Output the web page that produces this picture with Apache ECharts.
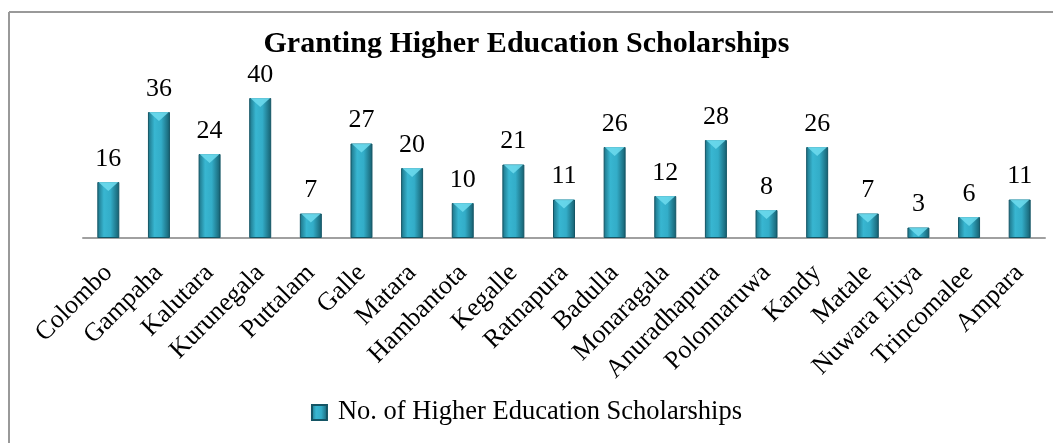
<!DOCTYPE html>
<html>
<head>
<meta charset="utf-8">
<script src="https://cdn.jsdelivr.net/npm/echarts@6/dist/echarts.min.js"></script>
<style>
  html, body { margin: 0; padding: 0; background: #fff; }
  #chart { width: 1053px; height: 443px; }
</style>
</head>
<body>
<div id="chart"></div>
<script>
// districts and scholarship counts
var districts = ['Colombo', 'Gampaha', 'Kalutara', 'Kurunegala', 'Puttalam', 'Galle', 'Matara',
  'Hambantota', 'Kegalle', 'Ratnapura', 'Badulla', 'Monaragala', 'Anuradhapura', 'Polonnaruwa',
  'Kandy', 'Matale', 'Nuwara Eliya', 'Trincomalee', 'Ampara'];
var scholarships = [16, 36, 24, 40, 7, 27, 20, 10, 21, 11, 26, 12, 28, 8, 26, 7, 3, 6, 11];
var seriesName = 'No. of Higher Education Scholarships';

var serif = '"Liberation Serif", "Times New Roman", serif';

var barColor = new echarts.graphic.LinearGradient(0, 0, 1, 0, [
  { offset: 0, color: '#1c7184' },
  { offset: 0.3, color: '#38b6d1' },
  { offset: 0.6, color: '#33adc8' },
  { offset: 1, color: '#165e6e' }
]);

var myChart = echarts.init(document.getElementById('chart'));
var option = {
  backgroundColor: '#fff',
  animation: false,
  title: {
    text: 'Granting Higher Education Scholarships',
    left: 'center',
    top: 24,
    textStyle: { fontFamily: serif, fontSize: 30, fontWeight: 'bold', color: '#000' }
  },
  legend: {
    data: [seriesName],
    bottom: 12,
    left: 'center',
    icon: 'rect',
    itemWidth: 15,
    itemHeight: 15,
    itemGap: 8,
    textStyle: { fontFamily: serif, fontSize: 26.5, color: '#000', padding: [0, 0, 0, 6] }
  },
  grid: { left: 83, right: 8, top: 98, bottom: 205 },
  xAxis: {
    type: 'category',
    data: districts,
    axisLine: { lineStyle: { color: '#a0a0a0', width: 2 } },
    axisTick: { show: false },
    axisLabel: {
      rotate: 45,
      interval: 0,
      margin: 31,
      fontFamily: serif,
      fontSize: 26,
      color: '#000'
    }
  },
  yAxis: {
    type: 'value',
    min: 0,
    max: 40,
    show: false,
    splitLine: { show: false }
  },
  series: [
    {
      name: seriesName,
      type: 'bar',
      data: scholarships,
      barWidth: 22,
      itemStyle: { color: barColor, borderColor: '#145565', borderWidth: 1 },
      label: {
        show: true,
        position: 'top',
        distance: 10,
        fontFamily: serif,
        fontSize: 26,
        color: '#000'
      }
    },
    {
      name: 'cap',
      type: 'pictorialBar',
      data: scholarships,
      symbol: 'path://M0,0 L20,0 L10,9 Z',
      symbolSize: [20, 9],
      symbolPosition: 'end',
      barGap: '-100%',
      itemStyle: { color: '#6fdcef', opacity: 0.85 },
      silent: true,
      z: 3
    }
  ],
  graphic: [
    { type: 'line', shape: { x1: 9, y1: 12, x2: 1053, y2: 12 }, style: { stroke: '#999', lineWidth: 2 } },
    { type: 'line', shape: { x1: 9, y1: 12, x2: 9, y2: 443 }, style: { stroke: '#999', lineWidth: 2 } }
  ]
};
myChart.setOption(option);
</script>
</body>
</html>
